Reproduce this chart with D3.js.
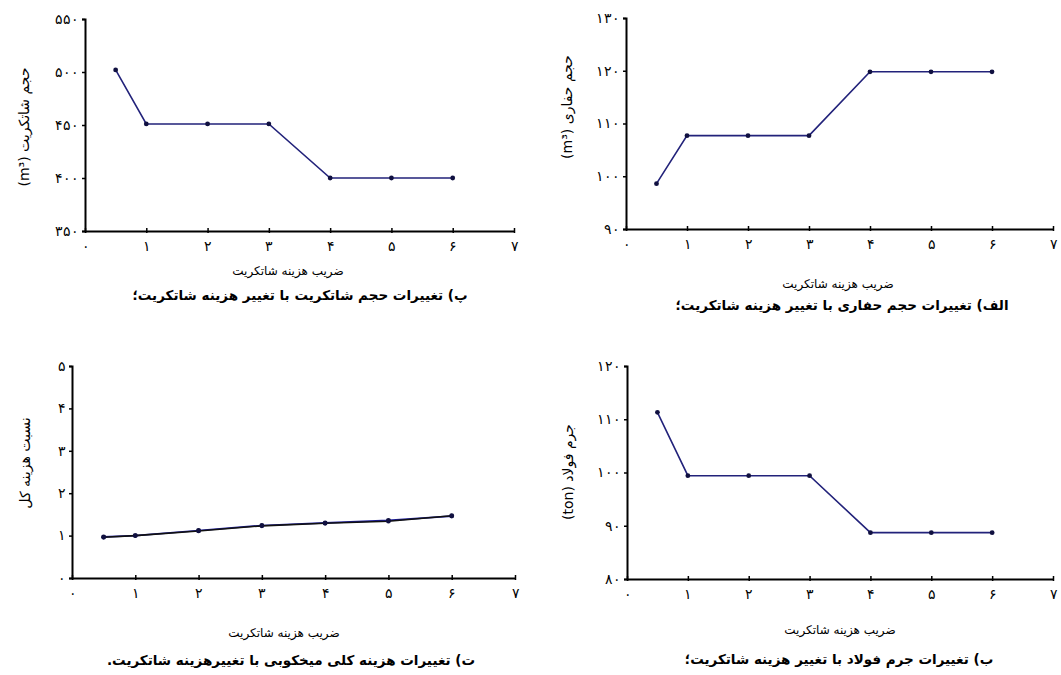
<!DOCTYPE html>
<html>
  <head>
    <meta charset="utf-8">
    <title>تغییرات با تغییر هزینه شاتکریت</title>
    <script src="https://d3js.org/d3.v7.min.js"></script>
    <style>
      body {
        margin: 0;
        background: #ffffff;
      }
      svg {
        font-family: "DejaVu Sans", sans-serif;
      }
      .tick text {
        font-size: 13.5px;
        fill: #000;
      }
      .axis path, .axis line {
        stroke: #000;
      }
      .xlabel {
        font-size: 12px;
      }
      .caption {
        font-size: 13.5px;
        font-weight: bold;
      }
      .ylabel {
        font-size: 14px;
      }
    </style>
  </head>
  <body>
    <svg width="1061" height="675"></svg>
    <script>
      // shotcrete cost factor
      var costFactor = [0.5, 1, 2, 3, 4, 5, 6];
      var xTicks = [0, 1, 2, 3, 4, 5, 6, 7];

      // (پ) shotcrete volume
      var shotcreteVolume = [502, 451, 451, 451, 400, 400, 400];
      // (الف) excavation volume
      var excavationVolume = [98.6, 107.7, 107.7, 107.7, 119.8, 119.8, 119.8];
      // (ت) total cost ratio, two overlapping series
      var costRatioBlue = [0.97, 1.0, 1.12, 1.24, 1.3, 1.36, 1.46];
      var costRatioBlack = [0.96, 1.0, 1.11, 1.23, 1.29, 1.34, 1.47];
      // (ب) steel mass
      var steelMass = [111.3, 99.4, 99.4, 99.4, 88.7, 88.7, 88.7];

      var xTitle = "ضریب هزینه شاتکریت";

      var faDigits = "۰۱۲۳۴۵۶۷۸۹";
      function fa(n) {
        return String(n).replace(/[0-9]/g, function(d) { return faDigits[+d]; });
      }

      var panels = [
        {
          x0: 85, x1: 514, yTop: 19, yBot: 231,
          domain: [350, 550], ticks: [350, 400, 450, 500, 550],
          series: [{ values: shotcreteVolume, color: "#22227a" }],
          ylabel: "حجم شاتکریت (m³)", ylx: 24, yly: 127,
          xlx: 288, xly: 275,
          caption: "پ) تغییرات حجم شاتکریت با تغییر هزینه شاتکریت؛", cx: 300, cy: 300
        },
        {
          x0: 626, x1: 1053, yTop: 18, yBot: 229,
          domain: [90, 130], ticks: [90, 100, 110, 120, 130],
          series: [{ values: excavationVolume, color: "#22227a" }],
          ylabel: "حجم حفاری (m³)", ylx: 567, yly: 107,
          xlx: 838, xly: 288,
          caption: "الف) تغییرات حجم حفاری با تغییر هزینه شاتکریت؛", cx: 842, cy: 310
        },
        {
          x0: 72, x1: 515, yTop: 366, yBot: 578,
          domain: [0, 5], ticks: [0, 1, 2, 3, 4, 5],
          series: [
            { values: costRatioBlue, color: "#1c1c9a" },
            { values: costRatioBlack, color: "#111111" }
          ],
          ylabel: "نسبت هزینه کل", ylx: 25, yly: 463,
          xlx: 284, xly: 637,
          caption: "ت) تغییرات هزینه کلی میخکوبی با تغییرهزینه شاتکریت.", cx: 291, cy: 665
        },
        {
          x0: 627, x1: 1053, yTop: 366, yBot: 579,
          domain: [80, 120], ticks: [80, 90, 100, 110, 120],
          series: [{ values: steelMass, color: "#22227a" }],
          ylabel: "جرم فولاد (ton)", ylx: 568, yly: 472,
          xlx: 840, xly: 634,
          caption: "ب) تغییرات جرم فولاد با تغییر هزینه شاتکریت؛", cx: 839, cy: 664
        }
      ];

      var svg = d3.select("svg");

      panels.forEach(function(p) {
        var x = d3.scaleLinear().domain([0, 7]).range([p.x0, p.x1]);
        var y = d3.scaleLinear().domain(p.domain).range([p.yBot, p.yTop]);
        var g = svg.append("g");

        var yAxis = g.append("g")
          .attr("class", "axis")
          .attr("transform", "translate(" + p.x0 + ",0)")
          .call(d3.axisLeft(y).tickValues(p.ticks).tickSize(3).tickPadding(3).tickFormat(fa));
        yAxis.select(".domain").attr("stroke-width", 2);
        yAxis.selectAll(".tick line").attr("stroke-width", 1.5);

        var xAxis = g.append("g")
          .attr("class", "axis")
          .attr("transform", "translate(0," + p.yBot + ")")
          .call(d3.axisBottom(x).tickValues(xTicks).tickSize(0).tickPadding(10).tickFormat(fa));
        xAxis.select(".domain").attr("stroke-width", 2);
        xAxis.selectAll(".tick").append("line")
          .attr("y1", -3).attr("y2", 2)
          .attr("stroke", "#000").attr("stroke-width", 1.5);
        xAxis.selectAll(".tick").filter(function(d) { return d === 0; }).select("line").remove();

        p.series.forEach(function(s) {
          var line = d3.line()
            .x(function(d, i) { return x(costFactor[i]); })
            .y(function(d) { return y(d); });
          g.append("path")
            .datum(s.values)
            .attr("d", line)
            .attr("fill", "none")
            .attr("stroke", s.color)
            .attr("stroke-width", 1.6);
          g.selectAll(null)
            .data(s.values)
            .enter()
            .append("circle")
            .attr("cx", function(d, i) { return x(costFactor[i]); })
            .attr("cy", function(d) { return y(d); })
            .attr("r", 2.4)
            .attr("fill", "#101040");
        });

        g.append("text")
          .attr("class", "ylabel")
          .attr("direction", "rtl")
          .attr("text-anchor", "middle")
          .attr("transform", "translate(" + p.ylx + "," + p.yly + ") rotate(-90)")
          .attr("dy", "0.35em")
          .text(p.ylabel);

        g.append("text")
          .attr("class", "xlabel")
          .attr("direction", "rtl")
          .attr("text-anchor", "middle")
          .attr("x", p.xlx)
          .attr("y", p.xly)
          .text(xTitle);

        g.append("text")
          .attr("class", "caption")
          .attr("direction", "rtl")
          .attr("text-anchor", "middle")
          .attr("x", p.cx)
          .attr("y", p.cy)
          .text(p.caption);
      });
    </script>
  </body>
</html>
